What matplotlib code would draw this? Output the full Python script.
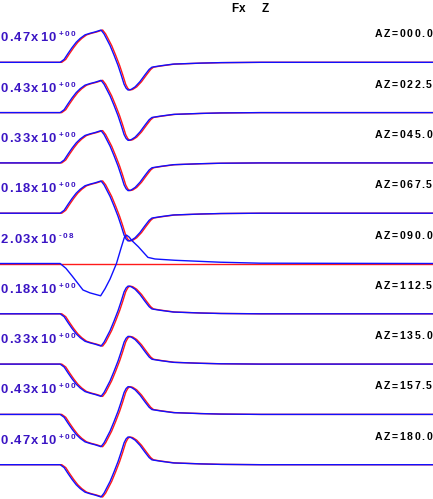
import matplotlib
matplotlib.use("Agg")
import matplotlib.pyplot as plt
from matplotlib import font_manager, ft2font
from matplotlib.font_manager import FontProperties
from matplotlib.transforms import IdentityTransform

# ---------------- data ----------------
azimuths = [0.0, 22.5, 45.0, 67.5, 90.0, 112.5, 135.0, 157.5, 180.0]
amp_mantissa = [0.47, 0.43, 0.33, 0.18, 2.03, 0.18, 0.33, 0.43, 0.47]
amp_exponent = [0, 0, 0, 0, -8, 0, 0, 0, 0]
polarity = [1, 1, 1, 1, 0, -1, -1, -1, -1]   # 0 -> nodal trace

# normalised synthetic (blue) waveform, time in seconds
syn_t = [0.0, 15.0, 16.0, 17.0, 18.0, 19.0, 20.0, 21.2, 22.45, 23.7, 25.2,
         25.95, 26.7, 27.45, 28.45, 29.45, 30.2, 30.95, 31.45, 31.95, 32.7,
         33.7, 34.9, 36.2, 37.2, 37.9, 39.9, 43.2, 49.9, 54.9, 64.9, 108.0]
syn_v = [0.0, 0.0, 0.09, 0.28, 0.46, 0.62, 0.74, 0.85, 0.90, 0.94, 1.0,
         0.88, 0.70, 0.52, 0.22, -0.10, -0.38, -0.68, -0.80, -0.86, -0.84,
         -0.76, -0.60, -0.38, -0.22, -0.15, -0.11, -0.055, -0.025, -0.01, 0.0, 0.0]
# normalised observed (red) waveform
obs_t = [0.0, 15.4, 16.4, 17.4, 18.4, 19.4, 20.4, 21.6, 22.85, 24.1, 25.6,
         26.35, 27.1, 27.85, 28.85, 29.85, 30.6, 31.35, 31.85, 32.35, 33.1,
         34.1, 35.3, 36.6, 37.6, 38.3, 40.3, 43.6, 50.3, 55.3, 65.3, 108.0]
obs_v = [0.0, 0.0, 0.09, 0.28, 0.46, 0.62, 0.74, 0.85, 0.90, 0.94, 1.0,
         0.88, 0.70, 0.52, 0.22, -0.10, -0.38, -0.68, -0.80, -0.86, -0.84,
         -0.76, -0.60, -0.38, -0.22, -0.15, -0.11, -0.055, -0.025, -0.01, 0.0, 0.0]

# nodal azimuth (AZ=90): synthetic residual, observed flat
nodal_syn_t = [0.0, 15.0, 16.45, 17.95, 19.45, 20.7, 22.45, 25.1, 26.2, 27.45,
               29.05, 30.2, 31.0, 31.55, 32.2, 32.9, 34.5, 36.9, 38.65, 43.65,
               54.9, 64.9, 108.0]
nodal_syn_v = [0.0, 0.0, -0.15, -0.38, -0.62, -0.82, -0.91, -1.0, -0.78, -0.48,
               0.0, 0.48, 0.80, 0.88, 0.82, 0.71, 0.52, 0.19, 0.14, 0.10,
               0.04, 0.01, 0.0]
nodal_obs_t = [0.0, 108.0]
nodal_obs_v = [0.0, 0.0]

# ---------------- figure ----------------
W, H, DPI = 433, 499, 100
fig = plt.figure(figsize=(W / DPI, H / DPI), dpi=DPI)
ax = fig.add_axes([0, 0, 1, 1])
ax.set_xlim(0, 108)
ax.set_ylim(-8.682, 1.239)
ax.axis("off")

scale = 0.642
for k, pol in enumerate(polarity):
    if pol == 0:
        rt, rv, bt, bv = nodal_obs_t, nodal_obs_v, nodal_syn_t, nodal_syn_v
        sgn = 1
    else:
        rt, rv, bt, bv = obs_t, obs_v, syn_t, syn_v
        sgn = pol
    ax.plot(rt, [-k + sgn * scale * v for v in rv], color="#ff1a1a", lw=1.0,
            solid_joinstyle="round")
    ax.plot(bt, [-k + sgn * scale * v for v in bv], color="#1010ff", lw=1.0,
            solid_joinstyle="round")

fig.canvas.draw()


def tracked(x_img, y_img, s, size_px, color, track, ha="left",
            family="Liberation Sans"):
    size_pt = size_px * 72.0 / DPI
    fp = FontProperties(family=family, weight="bold", size=size_pt)
    font = ft2font.FT2Font(font_manager.findfont(fp))
    font.set_size(size_pt, DPI)
    advs = []
    for c in s:
        g = font.load_char(ord(c))
        advs.append(g.linearHoriAdvance / 65536.0)
    total = sum(advs) + track * (len(s) - 1)
    x = x_img if ha == "left" else x_img - total
    y = H - y_img
    for c, a in zip(s, advs):
        fig.text(x, y, c, transform=IdentityTransform(), fontproperties=fp,
                 color=color, va="baseline", ha="left")
        x += a + track
    return x


label_col = "#3a14c4"
for k, az in enumerate(azimuths):
    base_img = H - ax.transData.transform((0, -k))[1]
    end = tracked(0.5, base_img - 21.0, f"{amp_mantissa[k]:.2f}x10", 13.0,
                  label_col, 1.4)
    tracked(end + 1.5, base_img - 26.0, f"{amp_exponent[k]:+03d}", 8.0,
            label_col, 1.2)
    tracked(432.0, base_img - 25.0, f"AZ={az:05.1f}", 10.5, "black", 1.5,
            ha="right")

tracked(231.0, 11.7, "Fx", 11.7, "black", 1.0)
tracked(262.0, 11.7, "Z", 11.7, "black", 1.0)

fig.savefig("out.png", dpi=DPI)
